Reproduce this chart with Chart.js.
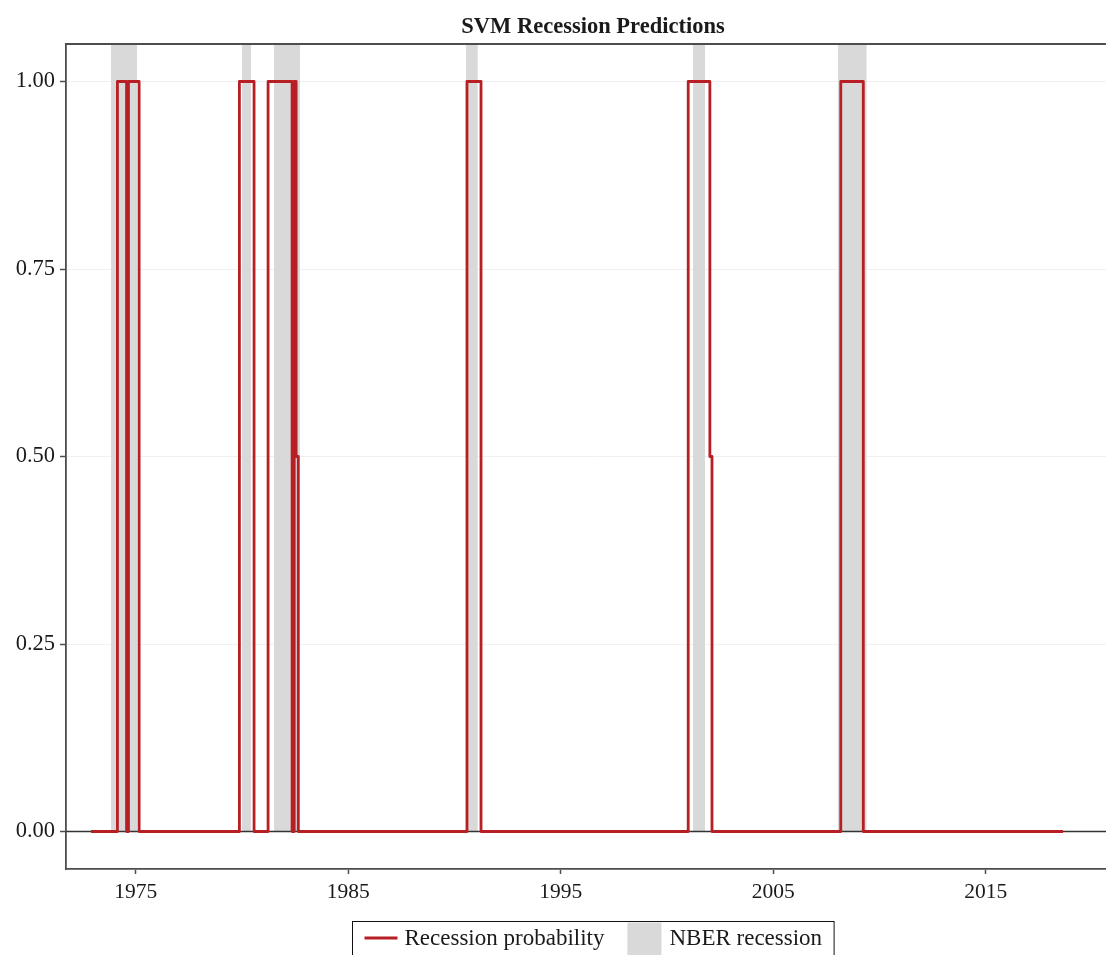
<!DOCTYPE html>
<html><head><meta charset="utf-8">
<script src="https://cdn.jsdelivr.net/npm/chart.js@4.4.1/dist/chart.umd.min.js"></script>
<style>html,body{margin:0;padding:0;background:#fff;overflow:hidden;width:1106px;height:955px}canvas{display:block}</style>
</head><body>
<canvas id="c" width="1120" height="955"></canvas>
<script>
const chartTitle = 'SVM Recession Predictions';
const seriesLabels = ['Recession probability', 'NBER recession'];
const xTickValues = [1975, 1985, 1995, 2005, 2015];
const yTickValues = [0, 0.25, 0.5, 0.75, 1];

// Step series: value holds from each date until the next one
const probDates  = [1972.90, 1974.14, 1974.57, 1974.66, 1975.16, 1979.88, 1980.57, 1981.23, 1982.36, 1982.46, 1982.55, 1982.65, 1990.59, 1991.25, 2001.00, 2002.02, 2002.12, 2008.18, 2009.24, 2018.64];
const probValues = [0,       1,       0,       1,       0,       1,       0,       1,       0,       1,       0.5,     0,       1,       0,       1,       0.5,     0,       1,       0,       0];

// NBER recession periods
const recessionStarts = [1973.84, 1980.00, 1981.51, 1990.54, 2001.22, 2008.04];
const recessionEnds   = [1975.06, 1980.42, 1982.73, 1991.10, 2001.79, 2009.40];

const X_MIN = 1971.72, X_MAX = 2021.32, Y_MIN = -0.05, Y_MAX = 1.05;
const RED = '#b81f25', BAND = '#d9d9d9', AXIS = '#4d4d4d', TXT = '#1a1a1a';
const FONT = '"Liberation Serif", "Times New Roman", serif';

const probData = probDates.map((d, i) => ({x: d, y: probValues[i]}));
const bandData = [];
recessionStarts.forEach((s, i) => {
  bandData.push({x: s, y: Y_MAX}, {x: recessionEnds[i], y: Y_MAX}, {x: recessionEnds[i], y: null});
});

const decor = {
  id: 'decor',
  afterDatasetDraw(chart, args) {
    if (args.index !== 1) return;
    const {ctx, chartArea: a, scales: {y}} = chart;
    const y0 = y.getPixelForValue(0);
    ctx.save();
    ctx.strokeStyle = '#333';
    ctx.lineWidth = 1.6;
    ctx.beginPath(); ctx.moveTo(a.left, y0); ctx.lineTo(a.right, y0); ctx.stroke();
    ctx.restore();
  },
  afterDraw(chart) {
    const {ctx, chartArea: a} = chart;
    const cx = (a.left + a.right) / 2;
    ctx.save();
    // top border
    ctx.strokeStyle = AXIS; ctx.lineWidth = 1.8;
    ctx.beginPath(); ctx.moveTo(a.left - 0.9, a.top); ctx.lineTo(a.right, a.top); ctx.stroke();
    // title
    ctx.fillStyle = TXT;
    ctx.font = 'bold 22.5px ' + FONT;
    ctx.textAlign = 'center'; ctx.textBaseline = 'middle';
    ctx.fillText(chartTitle, cx, 27);
    // legend
    ctx.font = '23px ' + FONT;
    const w1 = ctx.measureText(seriesLabels[0]).width;
    const w2 = ctx.measureText(seriesLabels[1]).width;
    const pad = 12, lineLen = 33, g1 = 7, g2 = 23, sq = 34, g3 = 8;
    const total = pad + lineLen + g1 + w1 + g2 + sq + g3 + w2 + pad;
    const left = Math.round(cx - total / 2) + 0.5;
    const top = 921.5, h = 34, mid = 938;
    ctx.fillStyle = '#fff';
    ctx.fillRect(left, top, total, h);
    let x = left + pad;
    ctx.strokeStyle = RED; ctx.lineWidth = 3; ctx.lineCap = 'butt';
    ctx.beginPath(); ctx.moveTo(x, mid); ctx.lineTo(x + lineLen, mid); ctx.stroke();
    x += lineLen + g1;
    ctx.fillStyle = TXT; ctx.textAlign = 'left'; ctx.textBaseline = 'middle';
    ctx.fillText(seriesLabels[0], x, mid + 1);
    x += w1 + g2;
    ctx.fillStyle = BAND;
    ctx.fillRect(x, top + 1, sq, h);
    x += sq + g3;
    ctx.fillStyle = TXT;
    ctx.fillText(seriesLabels[1], x, mid + 1);
    ctx.strokeStyle = '#111'; ctx.lineWidth = 1;
    ctx.strokeRect(left, top, total, h);
    ctx.restore();
  }
};

new Chart(document.getElementById('c'), {
  type: 'line',
  data: {
    datasets: [
      {
        label: seriesLabels[0], data: probData, stepped: 'before',
        borderColor: RED, borderWidth: 2.8, borderJoinStyle: 'round', borderCapStyle: 'butt',
        pointRadius: 0, fill: false, tension: 0
      },
      {
        label: seriesLabels[1], data: bandData, spanGaps: false,
        borderWidth: 0, borderColor: 'rgba(0,0,0,0)', backgroundColor: BAND,
        pointRadius: 0, fill: 'origin', tension: 0
      }
    ]
  },
  options: {
    responsive: false, animation: false, devicePixelRatio: 1,
    layout: {padding: {top: 44, left: 0, right: 0, bottom: 0}},
    plugins: {legend: {display: false}, tooltip: {enabled: false}, title: {display: false}},
    scales: {
      x: {
        type: 'linear', min: X_MIN, max: X_MAX,
        afterBuildTicks: s => { s.ticks = xTickValues.map(v => ({value: v})); },
        afterFit: s => { s.height = 86; },
        grid: {drawOnChartArea: false, drawTicks: true, tickLength: 5, tickColor: AXIS, tickWidth: 1.5},
        border: {display: true, color: AXIS, width: 1.8},
        ticks: {font: {family: FONT, size: 21.5}, color: TXT, padding: 5, maxRotation: 0, autoSkip: false,
                callback: v => String(v)}
      },
      y: {
        min: Y_MIN, max: Y_MAX,
        afterBuildTicks: s => { s.ticks = yTickValues.map(v => ({value: v})); },
        afterFit: s => { s.width = 66; },
        grid: {color: '#f0f0f0', lineWidth: 1, drawTicks: true, tickLength: 6, tickColor: AXIS, tickWidth: 1.5},
        border: {display: true, color: AXIS, width: 1.8},
        ticks: {font: {family: FONT, size: 22.5}, color: TXT, padding: 5, callback: v => Number(v).toFixed(2)}
      }
    }
  },
  plugins: [decor]
});
</script>
</body></html>
